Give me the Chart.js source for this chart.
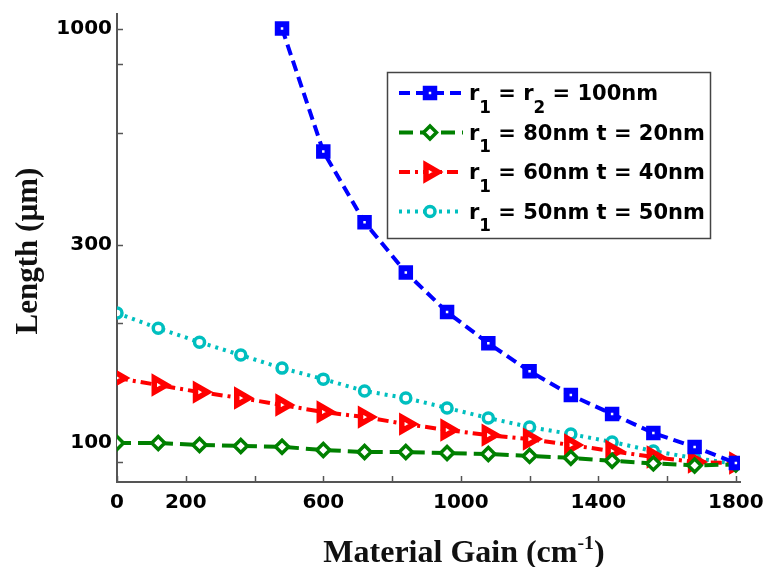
<!DOCTYPE html>
<html lang="en">
<head>
<meta charset="UTF-8">
<title>Length vs Material Gain</title>
<style>
    body { margin: 0; padding: 0; background-color: #fff; }
    #wrap { width: 768px; height: 567px; }
</style>
<script src="https://cdn.jsdelivr.net/npm/chart.js"></script>
</head>
<body>
<div id="wrap"><canvas id="gainChart" width="768" height="567"></canvas></div>
<script>
// values (material gain in cm^-1, length in um)
const gain = [0, 120, 240, 360, 480, 600, 720, 840, 960, 1080, 1200, 1320, 1440, 1560, 1680, 1800];
const lenR100 = [null, null, null, null, 1000, 505, 341, 258, 207, 174, 149, 130.5, 117.5, 105.7, 97.8, 89.5];
const lenT20 = [100, 100, 98.9, 98.4, 97.9, 96.2, 95.1, 95.1, 94.6, 94.1, 93.1, 92.1, 90.6, 89.3, 88.3, 88.8];
const lenT40 = [143.5, 138, 132.7, 128.4, 123.5, 118.8, 115.5, 111.1, 107.5, 104.5, 102.2, 98.9, 95.6, 92.5, 90.0, 89.5];
const lenT50 = [205.8, 189.2, 175.1, 163, 151.6, 142.6, 133.5, 128.4, 121.5, 114.9, 109.3, 105.1, 100.6, 95.6, 92.0, 89.0];
const seriesNames = ['r_1 = r_2 = 100nm', 'r_1 = 80nm t = 20nm', 'r_1 = 60nm t = 40nm', 'r_1 = 50nm t = 50nm'];

const xTicks = [0, 200, 400, 600, 800, 1000, 1200, 1400, 1600, 1800];
const xLabels = [0, 200, 600, 1000, 1400, 1800];
const yLabels = [100, 300, 1000];
const yMinor = [90, 195, 560, 820];

const xTitle = 'Material Gain (cm^{-1})';
const yTitle = 'Length (\u00b5m)';

function pts(ys) {
    return gain.map((g, i) => ({ x: g, y: ys[i] })).filter(p => p.y !== null);
}

const tickFont = { family: 'DejaVu Sans', weight: 'bold', size: 20 };

// draws text with _1 subscripts and ^{..} superscripts
function drawRich(ctx, text, x, y, size, family, align) {
    const parts = text.split(/(_\d|\^\{[^}]*\})/).filter(s => s.length);
    const segs = parts.map(s => {
        if (s[0] === '_') return { t: s.slice(1), size: size * 0.8, dy: size * 0.6 };
        if (s[0] === '^') return { t: s.slice(2, -1), size: size * 0.62, dy: -size * 0.42 };
        return { t: s, size: size, dy: 0 };
    });
    let total = 0;
    segs.forEach(s => {
        ctx.font = 'bold ' + s.size + 'px ' + family;
        s.w = ctx.measureText(s.t).width;
        total += s.w;
    });
    let cx = align === 'center' ? x - total / 2 : x;
    ctx.textAlign = 'left';
    ctx.textBaseline = 'alphabetic';
    segs.forEach(s => {
        ctx.font = 'bold ' + s.size + 'px ' + family;
        ctx.fillText(s.t, cx, y + s.dy);
        cx += s.w;
    });
}

const decor = {
    id: 'decor',
    beforeDatasetsDraw(chart) {
        const { ctx, chartArea: a, scales: { x, y } } = chart;
        ctx.save();
        ctx.strokeStyle = '#555';
        ctx.lineWidth = 1.5;
        x.ticks.forEach(t => {
            const px = Math.round(x.getPixelForValue(t.value)) + 0.5;
            ctx.beginPath(); ctx.moveTo(px, a.bottom); ctx.lineTo(px, a.bottom - 6); ctx.stroke();
        });
        y.ticks.forEach(t => {
            const py = Math.round(y.getPixelForValue(t.value)) + 0.5;
            ctx.beginPath(); ctx.moveTo(a.left, py); ctx.lineTo(a.left + 6, py); ctx.stroke();
        });
        ctx.restore();
    },
    afterDraw(chart) {
        const { ctx } = chart;
        ctx.save();
        ctx.fillStyle = '#111';
        // axis titles
        drawRich(ctx, xTitle, 464, 562, 32, '"Liberation Serif"', 'center');
        ctx.translate(37, 251);
        ctx.rotate(-Math.PI / 2);
        drawRich(ctx, yTitle, 0, 0, 31, '"Liberation Serif"', 'center');
        ctx.restore();

        // legend box
        ctx.save();
        ctx.fillStyle = '#fff';
        ctx.fillRect(387, 72, 323, 166);
        ctx.strokeStyle = '#444';
        ctx.lineWidth = 1.5;
        ctx.strokeRect(387.5, 72.5, 323, 166);
        chart.data.datasets.forEach((ds, i) => {
            const cy = 93 + i * 39.5;
            ctx.setLineDash(ds.borderDash || []);
            ctx.strokeStyle = ds.borderColor;
            ctx.lineWidth = ds.borderWidth;
            ctx.beginPath(); ctx.moveTo(399, cy); ctx.lineTo(463, cy); ctx.stroke();
            ctx.setLineDash([]);
            ctx.fillStyle = ds.pointBackgroundColor;
            ctx.lineWidth = ds.pointBorderWidth;
            Chart.helpers.drawPoint(ctx, {
                pointStyle: ds.pointStyle, radius: ds.pointRadius,
                rotation: ds.pointRotation || 0, borderWidth: ds.pointBorderWidth
            }, 430, cy);
            ctx.fillStyle = '#000';
            drawRich(ctx, seriesNames[i], 469, cy + 7, 21, '"DejaVu Sans"', 'left');
        });
        ctx.restore();
    }
};

new Chart(document.getElementById('gainChart'), {
    type: 'line',
    data: {
        datasets: [{
            label: 'r\u2081 = r\u2082 = 100nm',
            data: pts(lenR100),
            borderColor: '#0000ff',
            borderWidth: 4,
            borderDash: [11, 6],
            pointStyle: 'rect',
            pointRadius: 6,
            pointBorderWidth: 6,
            pointBackgroundColor: '#ffffff',
            pointBorderColor: '#0000ff'
        }, {
            label: 'r\u2081 = 80nm t = 20nm',
            data: pts(lenT20),
            borderColor: '#008000',
            borderWidth: 4,
            borderDash: [14, 7],
            pointStyle: 'rectRot',
            pointRadius: 6.5,
            pointBorderWidth: 3.5,
            pointBackgroundColor: '#ffffff',
            pointBorderColor: '#008000'
        }, {
            label: 'r\u2081 = 60nm t = 40nm',
            data: pts(lenT40),
            borderColor: '#ff0000',
            borderWidth: 4,
            borderDash: [11, 5, 3, 5],
            pointStyle: 'triangle',
            pointRotation: 90,
            pointRadius: 8,
            pointBorderWidth: 5.5,
            pointBackgroundColor: '#ffffff',
            pointBorderColor: '#ff0000'
        }, {
            label: 'r\u2081 = 50nm t = 50nm',
            data: pts(lenT50),
            borderColor: '#00bfbf',
            borderWidth: 4,
            borderDash: [3, 5],
            pointStyle: 'circle',
            pointRadius: 5,
            pointBorderWidth: 3.5,
            pointBackgroundColor: '#ffffff',
            pointBorderColor: '#00bfbf'
        }]
    },
    options: {
        responsive: false,
        animation: false,
        layout: { padding: { top: 13, right: 28, left: 0, bottom: 0 } },
        plugins: { legend: { display: false }, tooltip: { enabled: false } },
        elements: { line: { tension: 0, fill: false } },
        scales: {
            x: {
                type: 'linear',
                bounds: 'data',
                min: 0,
                max: 1812,
                // fixed plot box: keep the edge labels from shrinking it
                afterFit: s => { s.height = 85; s.paddingLeft = 0; s.paddingRight = 0; },
                afterBuildTicks: s => { s.ticks = xTicks.map(v => ({ value: v })); },
                grid: { display: false, drawTicks: false },
                border: { display: true, color: '#555', width: 2 },
                ticks: {
                    autoSkip: false,
                    maxRotation: 0,
                    padding: 9,
                    color: '#000',
                    font: tickFont,
                    callback: v => xLabels.includes(v) ? String(v) : ''
                }
            },
            y: {
                type: 'logarithmic',
                bounds: 'data',
                min: 80.53,
                max: 1086.9,
                afterFit: s => { s.width = 117; s.paddingTop = 0; s.paddingBottom = 0; },
                afterBuildTicks: s => { s.ticks = yMinor.concat(yLabels).map(v => ({ value: v })); },
                grid: { display: false, drawTicks: false },
                border: { display: true, color: '#555', width: 2 },
                ticks: {
                    autoSkip: false,
                    padding: 5,
                    color: '#000',
                    font: tickFont,
                    callback: v => yLabels.includes(v) ? String(v) : ''
                }
            }
        }
    },
    plugins: [decor]
});
</script>
</body>
</html>
